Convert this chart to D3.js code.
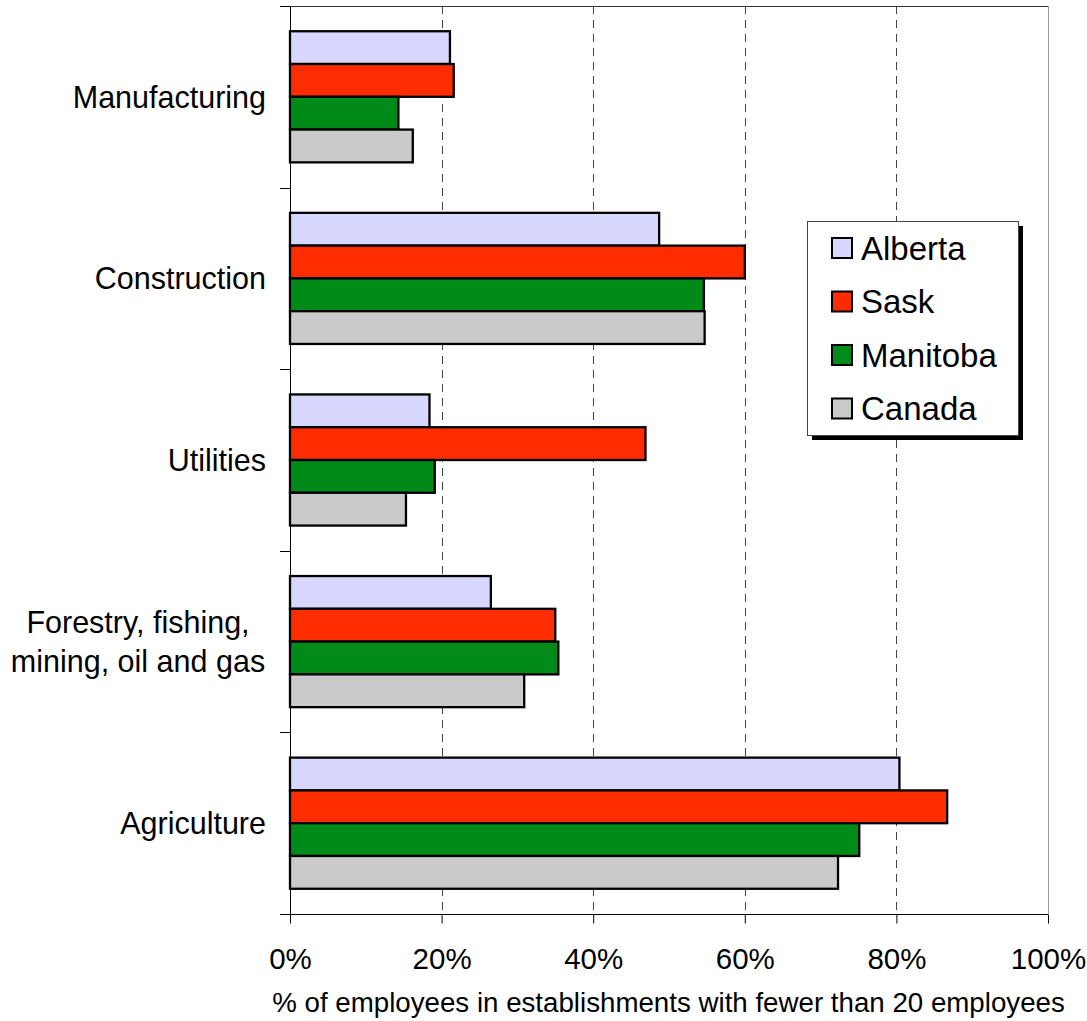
<!DOCTYPE html>
<html>
<head>
<meta charset="utf-8">
<script src="https://cdn.jsdelivr.net/npm/d3@7"></script>
<style>
  body { margin: 0; background: #fff; }
  svg { display: block; font-family: "Liberation Sans", Arial, sans-serif; }
</style>
</head>
<body>
<svg id="chart" width="1087" height="1021"></svg>
<script>
// data (share of employees, 0-1)
var categories = ["Manufacturing", "Construction", "Utilities", "Forestry, fishing,|mining, oil and gas", "Agriculture"];
var series = ["Alberta", "Sask", "Manitoba", "Canada"];
var alberta  = [0.211, 0.487, 0.184, 0.265, 0.804];
var sask     = [0.216, 0.600, 0.469, 0.350, 0.867];
var manitoba = [0.143, 0.546, 0.191, 0.354, 0.751];
var canada   = [0.162, 0.547, 0.153, 0.309, 0.723];
var xTicks = [0, 0.2, 0.4, 0.6, 0.8, 1];
var colors = ["#D8D8FF", "#FF2C00", "#008A18", "#CACACA"];

var values = [alberta, sask, manitoba, canada];

var svg = d3.select("#chart");
// plot area edges
var plotL = 290, plotR = 1048, plotT = 6, plotB = 914;

var x = d3.scaleLinear().domain([0, 1]).range([plotL, plotR]);
var y0 = d3.scaleBand().domain(categories).range([plotT, plotB]);
var y1 = d3.scaleBand().domain(series).range([0, y0.bandwidth()]).paddingOuter(0.77);
var color = d3.scaleOrdinal().domain(series).range(colors);

// gridlines (dashed)
svg.append("g")
  .selectAll("line")
  .data(xTicks.slice(1))
  .enter().append("line")
  .attr("x1", function(d) { return Math.round(x(d)) + 0.5; })
  .attr("x2", function(d) { return Math.round(x(d)) + 0.5; })
  .attr("y1", plotT)
  .attr("y2", plotB)
  .attr("stroke", function(d) { return d === 1 ? "#999" : "#444"; })
  .attr("stroke-width", 1)
  .attr("stroke-dasharray", function(d) { return d === 1 ? null : "8,6"; });

// top border
svg.append("line")
  .attr("x1", plotL).attr("x2", plotR)
  .attr("y1", plotT + 0.5).attr("y2", plotT + 0.5)
  .attr("stroke", "#333");

// bars
var rows = [];
categories.forEach(function(c, i) {
  series.forEach(function(s, j) {
    rows.push({cat: c, ser: s, value: values[j][i]});
  });
});

svg.append("g")
  .selectAll("rect")
  .data(rows)
  .enter().append("rect")
  .attr("x", x(0))
  .attr("y", function(d) { return y0(d.cat) + y1(d.ser); })
  .attr("width", function(d) { return x(d.value) - x(0); })
  .attr("height", y1.bandwidth())
  .attr("fill", function(d) { return color(d.ser); })
  .attr("stroke", "#000")
  .attr("stroke-width", 2.3);

// y axis with ticks at band edges
var yAxis = svg.append("g");
yAxis.append("line")
  .attr("x1", plotL + 0.5).attr("x2", plotL + 0.5)
  .attr("y1", plotT).attr("y2", plotB)
  .attr("stroke", "#000");
var edges = categories.map(function(c) { return y0(c); }).concat([plotB]);
yAxis.selectAll(".ytick")
  .data(edges)
  .enter().append("line")
  .attr("class", "ytick")
  .attr("x1", plotL - 10).attr("x2", plotL)
  .attr("y1", function(d) { return Math.round(d) + 0.5; })
  .attr("y2", function(d) { return Math.round(d) + 0.5; })
  .attr("stroke", "#000");

// category labels
svg.append("g")
  .selectAll("text")
  .data(categories)
  .enter().append("text")
  .attr("font-size", 30.5)
  .attr("fill", "#000")
  .each(function(d) {
    var lines = d.split("|");
    var t = d3.select(this);
    var cy = y0(d) + y0.bandwidth() / 2;
    if (lines.length === 1) {
      t.attr("text-anchor", "end")
        .attr("x", plotL - 24)
        .attr("y", cy)
        .attr("dy", "0.36em")
        .text(d);
    } else {
      t.attr("text-anchor", "middle");
      lines.forEach(function(l, k) {
        t.append("tspan")
          .attr("x", 138)
          .attr("y", cy + (k - (lines.length - 1) / 2) * 39)
          .attr("dy", "0.36em")
          .text(l);
      });
    }
  });

// x axis
var xAxis = d3.axisBottom(x)
  .tickValues(xTicks)
  .tickFormat(d3.format(".0%"))
  .tickSizeInner(9)
  .tickSizeOuter(0)
  .tickPadding(25);

var gx = svg.append("g")
  .attr("transform", "translate(0," + (plotB + 0.5) + ")")
  .call(xAxis);
gx.select(".domain").attr("stroke", "#000").attr("d", "M" + (plotL - 10) + ",0H" + plotR);
gx.selectAll(".tick line").attr("stroke", "#000");
gx.selectAll(".tick text")
  .attr("font-size", 29.5)
  .attr("font-family", "Liberation Sans, Arial, sans-serif")
  .attr("fill", "#000");

svg.append("text")
  .attr("x", (272 + 1065) / 2)
  .attr("y", 1012)
  .attr("text-anchor", "middle")
  .attr("font-size", 27.7)
  .attr("fill", "#000")
  .text("% of employees in establishments with fewer than 20 employees");

// legend
var legend = svg.append("g").attr("transform", "translate(807,221)");
legend.append("rect")
  .attr("x", 5).attr("y", 5)
  .attr("width", 211).attr("height", 214)
  .attr("fill", "#000");
legend.append("rect")
  .attr("x", 0.5).attr("y", 0.5)
  .attr("width", 211).attr("height", 214)
  .attr("fill", "#fff")
  .attr("stroke", "#444");

var item = legend.selectAll(".item")
  .data(series)
  .enter().append("g")
  .attr("class", "item")
  .attr("transform", function(d, i) { return "translate(0," + (27 + i * 53.5) + ")"; });
item.append("rect")
  .attr("x", 25).attr("y", -10)
  .attr("width", 20).attr("height", 20)
  .attr("fill", function(d) { return color(d); })
  .attr("stroke", "#000")
  .attr("stroke-width", 2);
item.append("text")
  .attr("x", 54)
  .attr("y", 0)
  .attr("dy", "0.36em")
  .attr("font-size", 33)
  .attr("fill", "#000")
  .text(function(d) { return d; });
</script>
</body>
</html>
